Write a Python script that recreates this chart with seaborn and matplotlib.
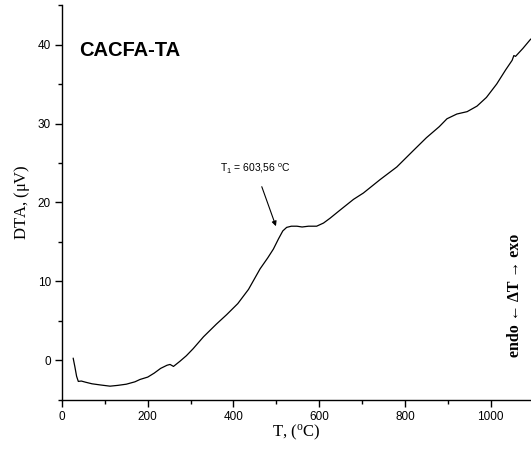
import matplotlib
matplotlib.use("Agg")
import matplotlib.pyplot as plt
import seaborn as sns
import pandas as pd
from matplotlib.ticker import MultipleLocator

# DTA trace of the CACFA-TA sample
temperature = [26, 30, 34, 38, 45, 55, 70, 90, 112, 130, 150, 170, 182, 200,
               215, 230, 245, 252, 260, 275, 290, 306, 330, 360, 384, 410, 435,
               462, 480, 493, 505, 515, 524, 535, 548, 560, 575, 594, 610, 625,
               650, 680, 703, 742, 781, 820, 850, 880, 898, 921, 945, 968, 990,
               1014, 1035, 1050, 1054, 1058, 1075, 1092, 1100]
dta = [0.3, -0.8, -2.0, -2.65, -2.6, -2.75, -2.95, -3.1, -3.25, -3.15, -3.0,
       -2.7, -2.4, -2.1, -1.6, -1.0, -0.6, -0.5, -0.75, -0.1, 0.6, 1.5, 3.0,
       4.6, 5.8, 7.2, 9.0, 11.6, 13.0, 14.1, 15.4, 16.4, 16.85, 17.0, 17.0,
       16.9, 17.0, 17.0, 17.4, 18.0, 19.1, 20.4, 21.2, 22.9, 24.5, 26.6, 28.2,
       29.6, 30.6, 31.2, 31.5, 32.2, 33.3, 35.0, 36.8, 38.0, 38.6, 38.5, 39.5,
       40.6, 41.0]

sample_name = "CACFA-TA"
peak_label = "T$\\mathregular{_1}$ = 603,56 $\\mathregular{^o}$C"
peak_tail = (466, 22.0)
peak_head = (499, 17.0)

df = pd.DataFrame({"T": temperature, "DTA": dta})

sns.set_style("ticks")
plt.rcParams["font.family"] = ["Liberation Sans", "DejaVu Sans"]
plt.rcParams["text.color"] = "black"
plt.rcParams["axes.labelcolor"] = "black"

fig = plt.figure(figsize=(5.31, 4.51), dpi=100)
ax = fig.add_axes([0.1168, 0.1131, 0.8832, 0.8758])

sns.lineplot(data=df, x="T", y="DTA", ax=ax, color="black", linewidth=0.9,
             sort=False)

ax.set_xlim(0, 1094)
ax.set_ylim(-5, 45)
ax.xaxis.set_major_locator(MultipleLocator(200))
ax.xaxis.set_minor_locator(MultipleLocator(100))
ax.yaxis.set_major_locator(MultipleLocator(10))
ax.yaxis.set_minor_locator(MultipleLocator(5))
ax.tick_params(which="major", direction="out", length=5, width=1,
               labelsize=8.5, pad=3, color="black", labelcolor="black")
ax.tick_params(which="minor", direction="out", length=3, width=1, color="black")

for side in ("top", "right"):
    ax.spines[side].set_visible(False)
for side in ("left", "bottom"):
    ax.spines[side].set_linewidth(1.0)
    ax.spines[side].set_color("black")

serif = ["Liberation Serif", "DejaVu Serif"]
ax.set_xlabel("T, ($\\mathregular{^o}$C)", family=serif, fontsize=12,
              labelpad=0, color="black")
ax.set_ylabel("DTA, ($\\mathregular{\\mu}$V)", family=serif, fontsize=12,
              labelpad=4, color="black")

ax.text(40, 39.3, sample_name, fontsize=14.5, fontweight="bold",
        va="center", ha="left", color="black")

ax.annotate(peak_label, xy=peak_head, xytext=(369, 24.4), fontsize=7.5,
            va="center", ha="left", color="black")
ax.annotate("", xy=peak_head, xytext=peak_tail,
            arrowprops=dict(arrowstyle="-|>", color="black", lw=0.8,
                            mutation_scale=7, shrinkA=0, shrinkB=0))

fig.text(0.970, 0.345, "endo \u2190 \u0394T \u2192 exo", rotation=90,
         family=serif, fontweight="bold", fontsize=11.5, ha="center",
         va="center", color="black")

fig.savefig("out.png", dpi=100)
